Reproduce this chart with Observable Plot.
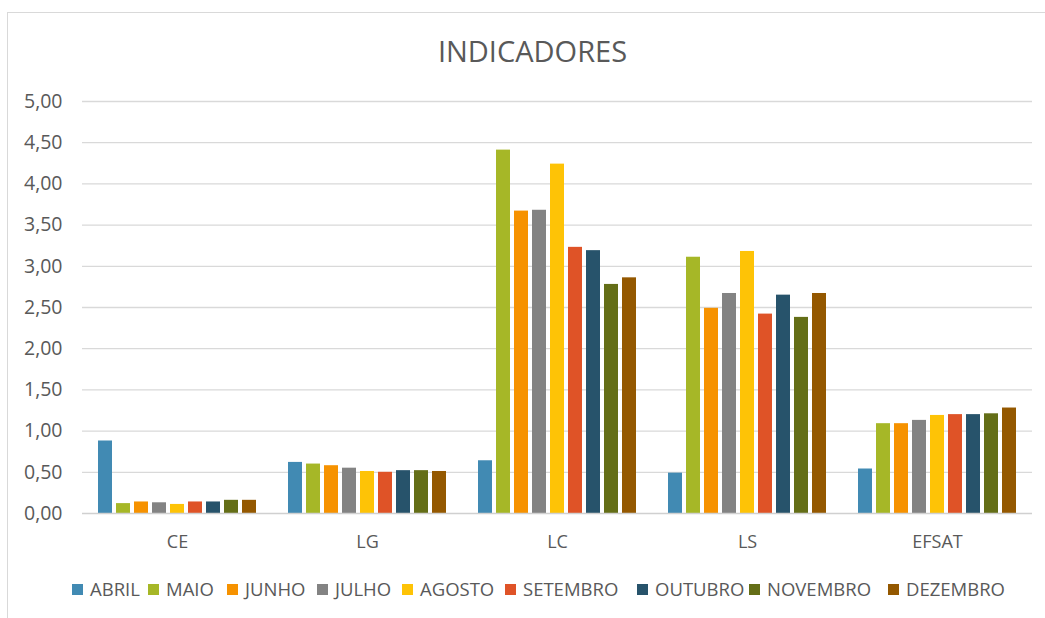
<!DOCTYPE html>
<html>
<head>
<meta charset="utf-8">
<script src="https://cdn.jsdelivr.net/npm/d3@7"></script>
<script src="https://cdn.jsdelivr.net/npm/@observablehq/plot@0.6"></script>
<style>
  body { margin: 0; background: #fff; font-family: "Open Sans", sans-serif; }
  #wrap { position: relative; width: 1045px; height: 618px; overflow: hidden; background: #fff; }
  #frame { position: absolute; left: 7px; top: 12px; width: 1100px; height: 700px; border: 1px solid #d9d9d9; box-sizing: border-box; }
  #title { position: absolute; left: 10px; top: 36px; width: 1045px; text-align: center; font-size: 29px; line-height: 29px; color: #595959; }
  #chart { position: absolute; left: 0; top: 80px; }
  #legend { position: absolute; left: 0; top: 580px; width: 1045px; height: 20px; font-size: 18.5px; line-height: 18px; color: #595959; white-space: nowrap; }
  .item { position: absolute; top: 0; display: flex; align-items: center; }
  .sw { width: 11px; height: 11px; margin-right: 7px; }
</style>
</head>
<body>
<div id="wrap">
  <div id="frame"></div>
  <div id="title">INDICADORES</div>
  <div id="chart"></div>
  <div id="legend"></div>
</div>
<script>
const categories = ["CE", "LG", "LC", "LS", "EFSAT"];
const months = ["ABRIL", "MAIO", "JUNHO", "JULHO", "AGOSTO", "SETEMBRO", "OUTUBRO", "NOVEMBRO", "DEZEMBRO"];
const colors = ["#418ab3", "#a6b727", "#f69200", "#838383", "#fec306", "#df5327", "#27536b", "#646e17", "#945800"];

const abril    = [0.88, 0.62, 0.64, 0.49, 0.54];
const maio     = [0.12, 0.60, 4.41, 3.11, 1.09];
const junho    = [0.14, 0.58, 3.67, 2.49, 1.09];
const julho    = [0.13, 0.55, 3.68, 2.67, 1.13];
const agosto   = [0.11, 0.51, 4.24, 3.18, 1.19];
const setembro = [0.14, 0.50, 3.23, 2.42, 1.20];
const outubro  = [0.14, 0.52, 3.19, 2.65, 1.20];
const novembro = [0.16, 0.52, 2.78, 2.38, 1.21];
const dezembro = [0.16, 0.51, 2.86, 2.67, 1.28];

const yTicks = [0, 0.5, 1, 1.5, 2, 2.5, 3, 3.5, 4, 4.5, 5];
const legendX = [72, 148, 227, 317, 402, 505, 637, 749, 888];

const series = [abril, maio, junho, julho, agosto, setembro, outubro, novembro, dezembro];
const data = [];
categories.forEach((c, i) => {
  months.forEach((m, j) => data.push({cat: c, month: m, value: series[j][i]}));
});

const fmt = d => d.toFixed(2).replace(".", ",");

const chart = Plot.plot({
  width: 1045,
  height: 480,
  marginTop: 21,
  marginBottom: 47,
  marginLeft: 96,
  marginRight: 27,
  style: { fontFamily: "'Open Sans', sans-serif", fontSize: "18px", color: "#595959", background: "transparent", overflow: "visible" },
  fx: { domain: categories, paddingInner: 0.1474, paddingOuter: 0, axis: "bottom", label: null, tickSize: 0, tickPadding: 22 },
  x: { domain: months, axis: null, paddingInner: 0.2, paddingOuter: 0.1 },
  y: { domain: [0, 5], label: null },
  color: { domain: months, range: colors },
  marks: [
    Plot.ruleY(yTicks.slice(1), { stroke: "#d9d9d9", strokeWidth: 1.3, insetLeft: -14, insetRight: -14 }),
    Plot.axisY({ ticks: yTicks, tickFormat: fmt, tickSize: 0, tickPadding: 34, fontSize: 19.5, label: null }),
    Plot.barY(data, { fx: "cat", x: "month", y: "value", fill: "month" }),
    Plot.ruleY([0], { stroke: "#d0d0d0", strokeWidth: 1.6, insetLeft: -14, insetRight: -14 })
  ]
});
document.getElementById("chart").appendChild(chart);

const legend = document.getElementById("legend");
months.forEach((m, i) => {
  const it = document.createElement("div");
  it.className = "item";
  it.style.left = legendX[i] + "px";
  const sw = document.createElement("div");
  sw.className = "sw";
  sw.style.background = colors[i];
  const tx = document.createElement("span");
  tx.textContent = m;
  it.appendChild(sw); it.appendChild(tx);
  legend.appendChild(it);
});
</script>
</body>
</html>
